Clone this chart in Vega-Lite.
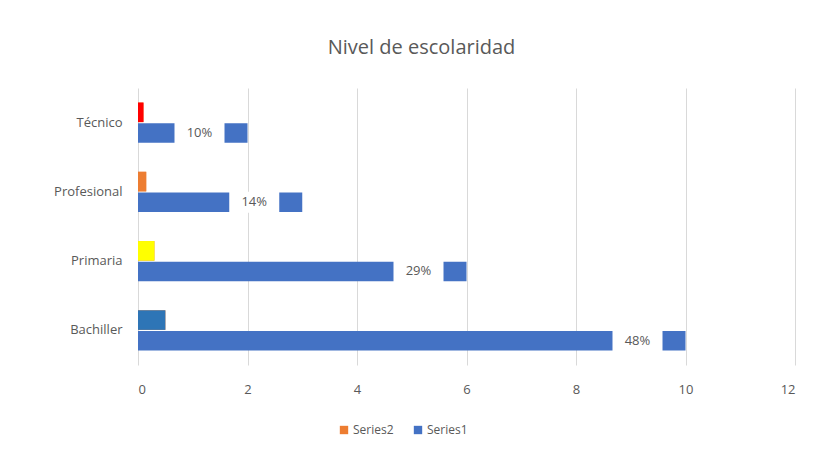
{
  "$schema": "https://vega.github.io/schema/vega-lite/v6.json",
  "autosize": "none",
  "width": 657,
  "height": 277,
  "padding": {"left": 138, "top": 88, "right": 26, "bottom": 89},
  "background": "white",
  "config": {
    "view": {"stroke": null},
    "font": "Open Sans",
    "axis": {"labelColor": "#595959", "labelFontSize": 13, "labelFont": "Open Sans"}
  },
  "title": {
    "text": "Nivel de escolaridad",
    "fontSize": 20,
    "font": "Open Sans",
    "fontWeight": "normal",
    "color": "#595959",
    "anchor": "middle",
    "offset": 30,
    "dx": -45
  },
  "data": {
    "values": [
      {"nivel": "Técnico", "serie": "Series1", "valor": 2, "pct": "10%"},
      {"nivel": "Profesional", "serie": "Series1", "valor": 3, "pct": "14%"},
      {"nivel": "Primaria", "serie": "Series1", "valor": 6, "pct": "29%"},
      {"nivel": "Bachiller", "serie": "Series1", "valor": 10, "pct": "48%"},
      {"nivel": "Técnico", "serie": "Series2", "valor": 0.1, "pct": ""},
      {"nivel": "Profesional", "serie": "Series2", "valor": 0.15, "pct": ""},
      {"nivel": "Primaria", "serie": "Series2", "valor": 0.3, "pct": ""},
      {"nivel": "Bachiller", "serie": "Series2", "valor": 0.5, "pct": ""}
    ]
  },
  "encoding": {
    "y": {
      "field": "nivel", "type": "nominal",
      "sort": ["Técnico", "Profesional", "Primaria", "Bachiller"],
      "scale": {"paddingInner": 0.42, "paddingOuter": 0.21},
      "axis": {"title": null, "ticks": false, "domain": false, "labelPadding": 16}
    },
    "yOffset": {
      "field": "serie", "type": "nominal",
      "scale": {"domain": ["Series2", "Series1"], "paddingInner": 0.05}
    },
    "x": {
      "field": "valor", "type": "quantitative",
      "scale": {"domain": [0, 12], "nice": false},
      "axis": {"title": null, "values": [0, 2, 4, 6, 8, 10, 12], "ticks": false, "domain": false,
               "gridColor": "#d9d9d9", "labelPadding": 18}
    }
  },
  "layer": [
    {
      "mark": {"type": "bar"},
      "encoding": {
        "color": {
          "field": "serie", "type": "nominal",
          "scale": {"domain": ["Series2", "Series1"], "range": ["#ED7D31", "#4472C4"]},
          "legend": {
            "title": null, "orient": "none", "direction": "horizontal",
            "legendX": 200, "legendY": 336,
            "symbolType": "square", "symbolSize": 70, "symbolStrokeWidth": 0,
            "labelFontSize": 12, "labelColor": "#595959", "labelFont": "Open Sans",
            "columnPadding": 18, "labelOffset": 3
          }
        }
      }
    },
    {
      "transform": [{"filter": "datum.serie === 'Series2'"}],
      "mark": {"type": "bar"},
      "encoding": {
        "color": {
          "field": "nivel", "type": "nominal",
          "scale": {"domain": ["Técnico", "Profesional", "Primaria", "Bachiller"],
                    "range": ["#FF0000", "#ED7D31", "#FFFF00", "#2E75B6"]},
          "legend": null
        }
      }
    },
    {
      "transform": [{"filter": "datum.serie === 'Series1'"}],
      "mark": {"type": "point", "shape": "M-1,-0.42H1V0.42H-1Z", "filled": true, "fill": "white",
               "opacity": 1, "size": 2500, "xOffset": -48, "strokeWidth": 0}
    },
    {
      "transform": [{"filter": "datum.serie === 'Series1'"}],
      "mark": {"type": "text", "align": "center", "baseline": "middle", "xOffset": -48,
               "fontSize": 13, "color": "#595959", "font": "Open Sans"},
      "encoding": {"text": {"field": "pct"}}
    }
  ],
  "resolve": {"scale": {"color": "independent"}}
}
